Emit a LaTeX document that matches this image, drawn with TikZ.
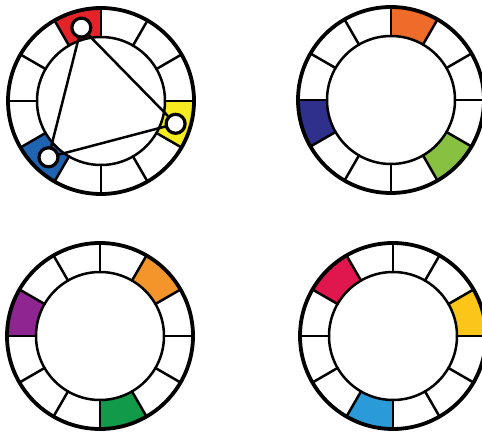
\documentclass[tikz,border=0pt]{standalone}
\usepackage{tikz}

% wheel colours
\definecolor{wheelred}{HTML}{E42329}
\definecolor{wheelyellow}{HTML}{F6EB1E}
\definecolor{wheelblue}{HTML}{1F64B0}
\definecolor{wheelorange}{HTML}{EE6B2A}
\definecolor{wheelnavy}{HTML}{2E308C}
\definecolor{wheellime}{HTML}{88C042}
\definecolor{wheelamber}{HTML}{F3952A}
\definecolor{wheelpurple}{HTML}{8F2590}
\definecolor{wheelgreen}{HTML}{109A4A}
\definecolor{wheelcrimson}{HTML}{E0164E}
\definecolor{wheelgold}{HTML}{FBC619}
\definecolor{wheelsky}{HTML}{2A9BD8}

\newcommand{\rin}{64}
\newcommand{\rout}{93}

% one coloured field, from angle #2 to #2+30
\newcommand{\wheelseg}[2]{%
	\fill[#1] (#2:\rin) arc[start angle=#2, delta angle=30, radius=\rin]
	-- ({#2+30}:\rout) arc[start angle={#2+30}, delta angle=-30, radius=\rout] -- cycle;}

% rings and spokes
\newcommand{\wheelring}{%
	\draw[ring] (0,0) circle (\rin);
	\foreach \a in {0,30,...,330}
	\draw[ring] (\a:\rin) -- (\a:\rout);
	\draw[rim] (0,0) circle (\rout);}

\begin{document}
\begin{tikzpicture}[
						x=1pt, y=1pt,
						line cap=round,
						line join=round,
						ring/.style={line width=2.5pt},
						rim/.style={line width=3.8pt},
						marker/.style={circle, draw, fill=white, line width=3.2pt, minimum size=19pt, inner sep=0pt}
						]
						
						\useasboundingbox (0,0) rectangle (482,434);
						
						% Triad wheel with triangle
						\begin{scope}[shift={(101,333)}]
						\wheelseg{wheelred}{90}
						\wheelseg{wheelyellow}{330}
						\wheelseg{wheelblue}{210}
						\wheelring
						\node[marker] (red) at (105:76) {};
						\node[marker] (yellow) at (343:78) {};
						\node[marker] (blue) at (227:77) {};
						\draw[ring] (red) -- (yellow);
						\draw[ring] (yellow) -- (blue);
						\draw[ring] (blue) -- (red);
						\end{scope}
						
						% Orange, green, navy
						\begin{scope}[shift={(391,334)}]
						\wheelseg{wheelorange}{60}
						\wheelseg{wheellime}{300}
						\wheelseg{wheelnavy}{180}
						\wheelring
						\end{scope}
						
						% Amber, purple, green
						\begin{scope}[shift={(100,98)}]
						\wheelseg{wheelamber}{30}
						\wheelseg{wheelpurple}{150}
						\wheelseg{wheelgreen}{270}
						\wheelring
						\end{scope}
						
						% Crimson, gold, sky blue
						\begin{scope}[shift={(393,98)}]
						\wheelseg{wheelcrimson}{120}
						\wheelseg{wheelgold}{0}
						\wheelseg{wheelsky}{240}
						\wheelring
						\end{scope}
						
					\end{tikzpicture}
\end{document}
